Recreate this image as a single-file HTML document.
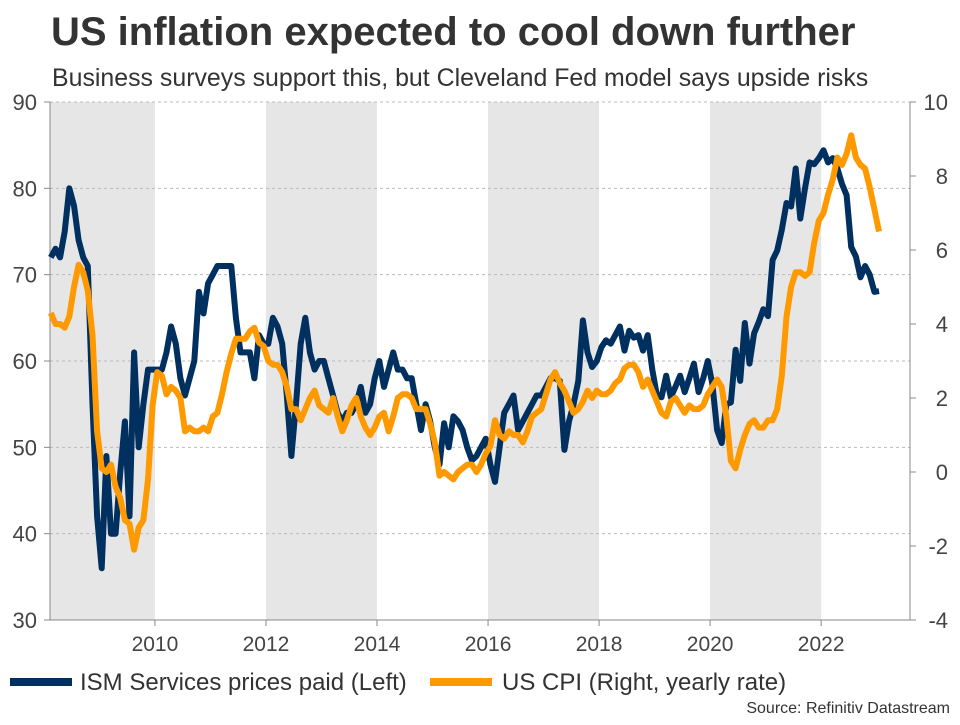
<!DOCTYPE html>
<html><head><meta charset="utf-8"><style>
body{margin:0;background:#fff;}
svg text{font-family:"Liberation Sans",Arial,sans-serif;}
</style></head><body>
<svg width="960" height="720" viewBox="0 0 960 720" id="chart">
<text x="51" y="45" font-size="40" font-weight="bold" fill="#333">US inflation expected to cool down further</text>
<text x="52" y="86" font-size="24.9" fill="#333">Business surveys support this, but Cleveland Fed model says upside risks</text>
<g id="bands"></g>
<g id="grid"></g>
<g id="axes"></g>
<g id="series"></g>
<g>
<line x1="10" y1="682" x2="72" y2="682" stroke="#00305f" stroke-width="8"/>
<text x="80" y="690" font-size="24" fill="#333">ISM Services prices paid (Left)</text>
<line x1="430" y1="682" x2="492" y2="682" stroke="#ff9900" stroke-width="8"/>
<text x="502" y="690" font-size="24" fill="#333">US CPI (Right, yearly rate)</text>
</g>
<text x="950" y="713" font-size="16" fill="#333" text-anchor="end">Source: Refinitiv Datastream</text>
</svg>
<script>
const yearTicks=[2010,2012,2014,2016,2018,2020,2022];
const leftTicks=[30,40,50,60,70,80,90];
const rightTicks=[-4,-2,0,2,4,6,8,10];
const bandRanges=[[2008.11,2010],[2012,2014],[2016,2018],[2020,2022]];
const ism=[72,73,72,75,80,78,74,72,71,55,42,36,
49,40,40,47,53,42,61,50,55,59,59,59,
59,61,64,62,58,56,58,60,68,65.5,69,70,
71,71,71,71,65,61,61,61,58,63,62,62,
65,64,62,56,49,55,62,65,61,59,60,60,
58,56,54,53,54,54,55,57,54,55,58,60,
57,59,61,59,59,58,58,55,52,55,53,50,
48,52.8,50,53.6,53,52,50,48.5,49,50,51,48,
46,50,54,55,56,52,53,54,55,56,56,57,
58,58,57.7,49.7,53,55,57.7,64.7,61,59.3,60,61.6,
62.4,62,63,64,61.2,63.5,62.7,63,61.2,63,59,56,
55.8,58.3,55.8,57,58.3,56.4,58,59.7,56.4,58,60,57.3,
52,50.5,55,55.2,61.3,57.7,64.4,59.7,63.2,64.5,66,65.2,
71.7,72.8,75.2,78.3,77.9,82.3,76.5,80,83,82.8,83.5,84.4,
83,83.5,82.3,80.5,79.2,73.2,72.1,69.7,71,70,68,68.1];
const cpi=[4.3,4.0,4.0,3.9,4.2,5.0,5.6,5.4,4.9,3.7,1.1,0.1,
0.0,0.2,-0.4,-0.7,-1.3,-1.4,-2.1,-1.5,-1.3,-0.2,1.8,2.7,
2.6,2.1,2.3,2.2,2.0,1.1,1.2,1.1,1.1,1.2,1.1,1.5,
1.6,2.1,2.7,3.2,3.6,3.6,3.6,3.8,3.9,3.5,3.4,3.0,
2.9,2.9,2.7,2.3,1.7,1.7,1.4,1.7,2.0,2.2,1.8,1.7,
1.6,2.0,1.5,1.1,1.4,1.8,2.0,1.5,1.2,1.0,1.2,1.5,
1.6,1.1,1.5,2.0,2.1,2.1,2.0,1.7,1.7,1.7,1.3,0.8,
-0.1,0.0,-0.1,-0.2,0.0,0.1,0.2,0.2,0.0,0.2,0.5,0.7,
1.4,1.0,0.9,1.1,1.0,1.0,0.8,1.1,1.5,1.6,1.7,2.1,
2.5,2.7,2.4,2.2,1.9,1.6,1.7,1.9,2.2,2.0,2.2,2.1,
2.1,2.2,2.4,2.5,2.8,2.9,2.9,2.7,2.3,2.5,2.2,1.9,
1.6,1.5,1.9,2.0,1.8,1.6,1.8,1.7,1.7,1.8,2.1,2.3,
2.5,2.3,1.5,0.3,0.1,0.6,1.0,1.3,1.4,1.2,1.2,1.4,
1.4,1.7,2.6,4.2,5.0,5.4,5.4,5.3,5.4,6.2,6.8,7.0,
7.5,7.9,8.5,8.3,8.6,9.1,8.5,8.3,8.2,7.7,7.1,6.5];
const startYear=2008;
const X0=50,X1=910,Y0=102,Y1=620;
const xs=t=>X0+(t-2008.11)/(2023.6-2008.11)*(X1-X0);
const yl=v=>Y1-(v-30)/(90-30)*(Y1-Y0);
const yr=v=>Y1-(v+4)/(10+4)*(Y1-Y0);
const NS='http://www.w3.org/2000/svg';
function mk(tag,parent,attrs){const e=document.createElementNS(NS,tag);for(const k in attrs)e.setAttribute(k,attrs[k]);parent.appendChild(e);return e;}
const bands=document.getElementById('bands'),grid=document.getElementById('grid'),axes=document.getElementById('axes'),series=document.getElementById('series');
bandRanges.forEach(r=>{const e=mk('rect',bands,{x:xs(r[0]),y:Y0,width:xs(r[1])-xs(r[0]),height:Y1-Y0,fill:'#e6e6e6'});

});
leftTicks.forEach(v=>{const y=yl(v);
if(v>30){const g=mk('line',grid,{x1:X0,x2:X1,y1:y,y2:y,stroke:'#bbb','stroke-dasharray':'3,3','stroke-width':1});

}
mk('line',axes,{x1:X0-6,x2:X0,y1:y,y2:y,stroke:'#888'});
const t=mk('text',axes,{x:37,y:y+8,'font-size':22,fill:'#444','text-anchor':'end'});t.textContent=v;

});
rightTicks.forEach(v=>{const y=yr(v);
mk('line',axes,{x1:X1,x2:X1+6,y1:y,y2:y,stroke:'#888'});
const t=mk('text',axes,{x:948,y:y+8,'font-size':22,fill:'#444','text-anchor':'end'});t.textContent=v;

});
yearTicks.forEach(v=>{const x=xs(v);
mk('line',axes,{x1:x,x2:x,y1:Y1,y2:Y1+6,stroke:'#888'});
const t=mk('text',axes,{x:x,y:Y1+31,'font-size':21,fill:'#444','text-anchor':'middle'});t.textContent=v;

});
mk('line',axes,{x1:X0,x2:X0,y1:Y0,y2:Y1,stroke:'#888'});
mk('line',axes,{x1:X1,x2:X1,y1:Y0,y2:Y1,stroke:'#888'});
mk('line',axes,{x1:X0,x2:X1,y1:Y1,y2:Y1,stroke:'#888'});
function path(arr,yf){return arr.map((v,i)=>(i?'L':'M')+xs(startYear+(i+1.5)/12).toFixed(1)+','+yf(v).toFixed(1)).join('');}
const p1=mk('path',series,{d:path(ism,yl),fill:'none',stroke:'#00305f','stroke-width':6,'stroke-linejoin':'round'});


const p2=mk('path',series,{d:path(cpi,yr),fill:'none',stroke:'#ff9900','stroke-width':6,'stroke-linejoin':'round'});


</script>
</body></html>
